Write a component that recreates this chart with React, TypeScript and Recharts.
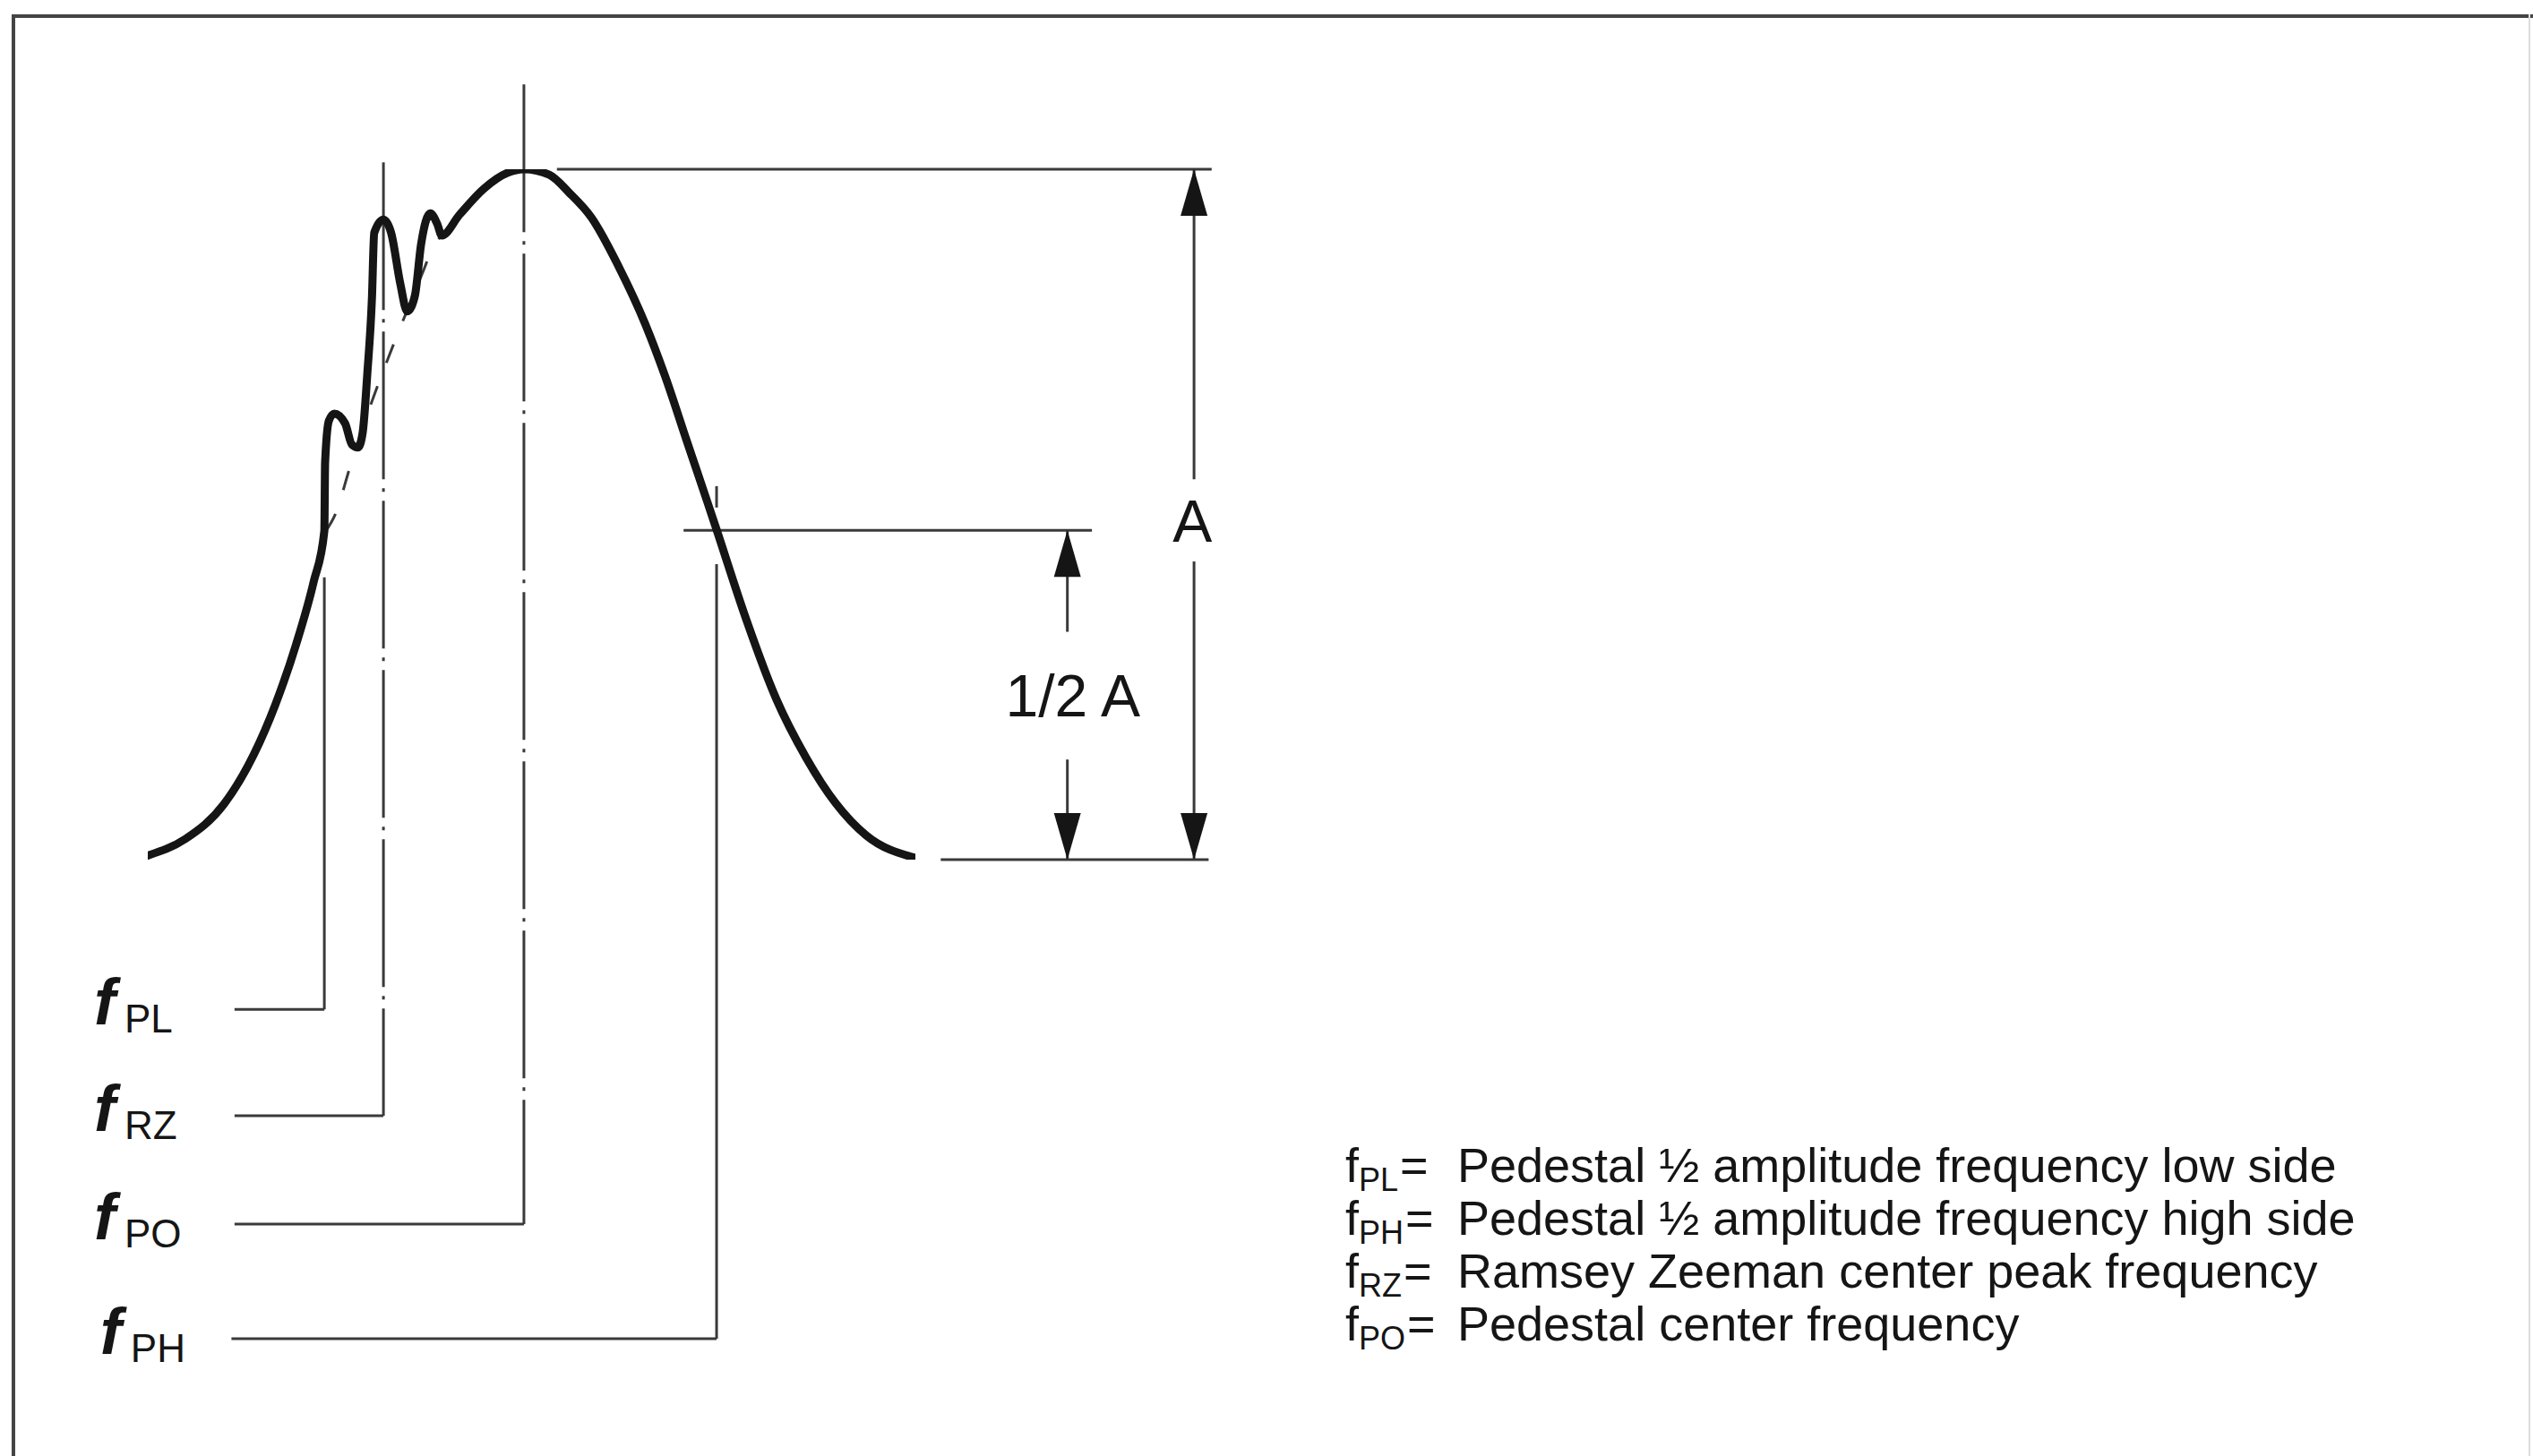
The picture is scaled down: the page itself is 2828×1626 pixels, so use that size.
import React from 'react';
import { ComposedChart, Line, XAxis, YAxis, ReferenceLine, ReferenceDot } from 'recharts';

// pedestal response: frequency in arbitrary units (0..100 across the pedestal), amplitude with A = 1
const freq = [0, 4.9, 9.9, 13.8, 16.6, 19.3, 21.6, 23.0, 23.1, 23.6, 24.3, 25.7, 26.6, 27.4, 28.0, 28.6, 29.2, 29.5, 30.7, 31.7, 32.9, 33.8, 34.8, 35.6, 36.8, 37.7, 38.3, 40.6, 43.8, 46.9, 49.0, 52.3, 54.9, 57.8, 61.3, 64.8, 67.4, 70.2, 72.9, 74.1, 77.9, 81.9, 85.8, 89.6, 93.6, 99.8];
const amplitude = [0.006, 0.03, 0.08, 0.152, 0.224, 0.311, 0.402, 0.476, 0.575, 0.636, 0.646, 0.632, 0.601, 0.597, 0.619, 0.704, 0.813, 0.908, 0.927, 0.908, 0.834, 0.794, 0.817, 0.891, 0.936, 0.921, 0.904, 0.934, 0.972, 0.995, 1.0, 0.992, 0.966, 0.93, 0.86, 0.776, 0.7, 0.607, 0.518, 0.478, 0.35, 0.232, 0.147, 0.082, 0.035, 0.003];

// dashed pedestal under the Ramsey/Zeeman peaks
const pedestalFreq = [23.2, 24.5, 26.3, 29.4, 31.9, 35.9, 37.1, 38.3];
const pedestalAmp = [0.476, 0.502, 0.567, 0.67, 0.743, 0.853, 0.886, 0.904];

// frequency markers and their leader lines
const markerNames = ['PL', 'RZ', 'PO', 'PH'];
const markerFreq = [23.0, 30.7, 49.0, 74.1];
const markerTop = [0.409, 1.01, 1.123, 0.428];
const leaderLevel = [-0.217, -0.371, -0.528, -0.694];
const leaderStart = [11.3, 11.3, 11.3, 10.9];
const labelFreq = [-7.0, -7.0, -7.0, -6.2];
const centreLine = [false, true, true, false];

// amplitude dimensioning
const peakLevel = 1.0;
const halfLevel = 0.477;
const baseLevel = 0;
const peakLine = [53.3, 138.6];
const halfLine = [69.8, 123.0];
const baseLine = [103.3, 138.2];
const arrowA = 136.3;
const arrowHalf = 119.8;
const gapA = [0.551, 0.432];
const gapHalf = [0.33, 0.145];
const labelA = { f: 136.1, a: 0.49, text: 'A' };
const labelHalf = { f: 120.5, a: 0.237, text: '1/2 A' };

const legendSubs = ['PL', 'PH', 'RZ', 'PO'];
const legendTexts = [
  'Pedestal ½ amplitude frequency low side',
  'Pedestal ½ amplitude frequency high side',
  'Ramsey Zeeman center peak frequency',
  'Pedestal center frequency',
];

const curve = freq.map((f, i) => ({ f, a: amplitude[i] }));
const pedestal = pedestalFreq.map((f, i) => ({ f, a: pedestalAmp[i] }));

const INK = '#151515';
const THIN = '#3a3a3a';
const FONT = '"Liberation Sans", Arial, sans-serif';

const arrowUp = (p: any) => (
  <polygon points={`${p.cx},${p.cy} ${p.cx - 15},${p.cy + 52} ${p.cx + 15},${p.cy + 52}`} fill={INK} />
);
const arrowDown = (p: any) => (
  <polygon points={`${p.cx},${p.cy} ${p.cx - 15},${p.cy - 52} ${p.cx + 15},${p.cy - 52}`} fill={INK} />
);

const textShape = (text: string, size: number) => (p: any) => (
  <text x={p.cx} y={p.cy} textAnchor="middle" dominantBaseline="central" fontFamily={FONT} fontSize={size} fill={INK}>
    {text}
  </text>
);

const freqLabel = (sub: string) => (p: any) => (
  <text x={p.cx} y={p.cy + 17} fontFamily={FONT} fill={INK}>
    <tspan fontSize={72} fontStyle="italic" fontWeight="bold">f</tspan>
    <tspan fontSize={44} dx={10} dy={9}>{sub}</tspan>
  </text>
);

export default function App() {
  return (
    <div style={{ position: 'absolute', left: 0, top: 0, width: 2828, height: 1626, background: '#fff', overflow: 'hidden' }}>
      {/* frame */}
      <div style={{ position: 'absolute', left: 13, top: 16, width: 2830, height: 4, background: '#444' }} />
      <div style={{ position: 'absolute', left: 13, top: 16, width: 4, height: 1620, background: '#444' }} />
      <div style={{ position: 'absolute', left: 2823, top: 16, width: 2, height: 1620, background: '#ddd' }} />

      <div style={{ position: 'absolute', left: 0, top: 0 }}>
        <ComposedChart width={2828} height={1626} margin={{ top: 189, right: 1806, bottom: 666, left: 165 }}>
          <XAxis type="number" dataKey="f" domain={[0, 100]} hide allowDataOverflow />
          <YAxis type="number" domain={[0, 1]} hide allowDataOverflow />

          {markerNames.map((name, i) => (
            <ReferenceLine
              key={`v${name}`}
              segment={[{ x: markerFreq[i], y: markerTop[i] }, { x: markerFreq[i], y: leaderLevel[i] }]}
              stroke={THIN}
              strokeWidth={3}
              strokeDasharray={centreLine[i] ? '165 10 4 10' : undefined}
              ifOverflow="visible"
            />
          ))}
          {markerNames.map((name, i) => (
            <ReferenceLine
              key={`h${name}`}
              segment={[{ x: leaderStart[i], y: leaderLevel[i] }, { x: markerFreq[i], y: leaderLevel[i] }]}
              stroke={THIN}
              strokeWidth={3}
              ifOverflow="visible"
            />
          ))}
          <ReferenceLine segment={[{ x: markerFreq[3], y: 0.541 }, { x: markerFreq[3], y: 0.51 }]} stroke={THIN} strokeWidth={3} ifOverflow="visible" />

          <ReferenceLine segment={[{ x: peakLine[0], y: peakLevel }, { x: peakLine[1], y: peakLevel }]} stroke={THIN} strokeWidth={3} ifOverflow="visible" />
          <ReferenceLine segment={[{ x: halfLine[0], y: halfLevel }, { x: halfLine[1], y: halfLevel }]} stroke={THIN} strokeWidth={3} ifOverflow="visible" />
          <ReferenceLine segment={[{ x: baseLine[0], y: baseLevel }, { x: baseLine[1], y: baseLevel }]} stroke={THIN} strokeWidth={3} ifOverflow="visible" />

          <ReferenceLine segment={[{ x: arrowA, y: peakLevel }, { x: arrowA, y: gapA[0] }]} stroke={THIN} strokeWidth={3} ifOverflow="visible" />
          <ReferenceLine segment={[{ x: arrowA, y: gapA[1] }, { x: arrowA, y: baseLevel }]} stroke={THIN} strokeWidth={3} ifOverflow="visible" />
          <ReferenceLine segment={[{ x: arrowHalf, y: halfLevel }, { x: arrowHalf, y: gapHalf[0] }]} stroke={THIN} strokeWidth={3} ifOverflow="visible" />
          <ReferenceLine segment={[{ x: arrowHalf, y: gapHalf[1] }, { x: arrowHalf, y: baseLevel }]} stroke={THIN} strokeWidth={3} ifOverflow="visible" />
          <ReferenceDot x={arrowA} y={peakLevel} r={0} ifOverflow="visible" shape={arrowUp} />
          <ReferenceDot x={arrowA} y={baseLevel} r={0} ifOverflow="visible" shape={arrowDown} />
          <ReferenceDot x={arrowHalf} y={halfLevel} r={0} ifOverflow="visible" shape={arrowUp} />
          <ReferenceDot x={arrowHalf} y={baseLevel} r={0} ifOverflow="visible" shape={arrowDown} />
          <ReferenceDot x={labelA.f} y={labelA.a} r={0} ifOverflow="visible" shape={textShape(labelA.text, 66)} />
          <ReferenceDot x={labelHalf.f} y={labelHalf.a} r={0} ifOverflow="visible" shape={textShape(labelHalf.text, 66)} />

          {markerNames.map((name, i) => (
            <ReferenceDot key={`l${name}`} x={labelFreq[i]} y={leaderLevel[i]} r={0} ifOverflow="visible" shape={freqLabel(name)} />
          ))}

          <Line data={pedestal} dataKey="a" type="monotone" stroke={THIN} strokeWidth={3} strokeDasharray="22 28" dot={false} activeDot={false} isAnimationActive={false} />
          <Line data={curve} dataKey="a" type="monotone" stroke={INK} strokeWidth={9} strokeLinecap="round" strokeLinejoin="round" dot={false} activeDot={false} isAnimationActive={false} />
        </ComposedChart>
      </div>

      <div style={{ position: 'absolute', left: 1502, top: 1272, fontFamily: FONT, fontSize: 54, color: INK, whiteSpace: 'nowrap' }}>
        {legendSubs.map((sub, i) => (
          <div key={sub} style={{ height: 59, lineHeight: '59px' }}>
            <span style={{ display: 'inline-block', width: 125, lineHeight: '59px' }}>
              f<span style={{ fontSize: 36, position: 'relative', top: 10, lineHeight: 0 }}>{sub}</span>
              <span style={{ marginLeft: 2 }}>=</span>
            </span>
            <span>{legendTexts[i]}</span>
          </div>
        ))}
      </div>
    </div>
  );
}
